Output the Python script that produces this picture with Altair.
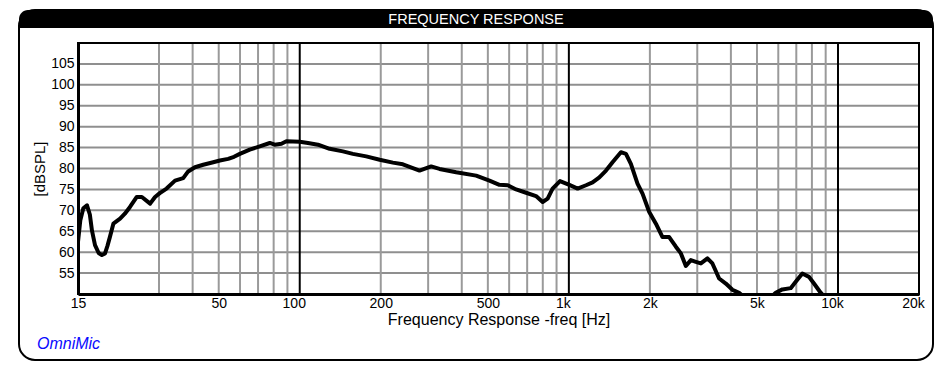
import altair as alt
import pandas as pd

# ---- data ----
freq_hz = [15.0, 15.3, 15.7, 16.2, 16.6, 16.9, 17.35, 17.9, 18.4, 18.9, 19.3, 19.7,
           20.3, 21.5, 22.4, 23.4, 24.8, 25.9, 27.8, 29.0, 30.2, 32.0, 34.4, 36.9,
           38.5, 40.8, 43.8, 47.7, 50.5, 54.2, 57.0, 59.9, 65.2, 71.0, 77.4, 80.7,
           85.5, 89.2, 100, 107.3, 116.9, 129.2, 144.7, 157.6, 176.7, 198.1, 221.9,
           241.7, 278.7, 307.9, 330.6, 381.3, 452.4, 506.9, 552.1, 592.7, 636.7,
           693.4, 755.2, 799, 834, 870, 927, 1004, 1078, 1158, 1225, 1298, 1374,
           1453, 1561, 1630, 1700, 1799, 1878, 1989, 2106, 2228, 2359, 2498, 2608,
           2721, 2840, 2964, 3094, 3273, 3415, 3617, 3830, 4053, 4291, 4600, 5000,
           5500, 5870, 6213, 6673, 6965, 7370, 7803, 8144, 8623, 9500, 11000, 14000,
           20000]
spl_db = [62.5, 67.6, 70.5, 71.2, 69.0, 65.2, 61.7, 59.8, 59.3, 59.7, 61.5, 63.6,
          66.8, 68.0, 69.2, 70.8, 73.2, 73.2, 71.6, 73.2, 74.1, 75.2, 77.1, 77.7,
          79.3, 80.3, 80.9, 81.5, 81.9, 82.3, 82.8, 83.5, 84.5, 85.3, 86.1, 85.7,
          85.9, 86.5, 86.4, 86.1, 85.7, 84.7, 84.1, 83.5, 82.9, 82.1, 81.4,
          81.0, 79.5, 80.5, 79.9, 79.1, 78.3, 77.1, 76.1, 76.0, 75.0,
          74.2, 73.4, 72.0, 72.8, 75.2, 77.0, 76.1, 75.2, 76.0, 76.7, 77.9, 79.5,
          81.5, 83.9, 83.5, 81.1, 76.4, 74.0, 69.6, 66.8, 63.6, 63.6, 61.3, 59.7,
          56.7, 58.1, 57.7, 57.3, 58.5, 57.3, 53.7, 52.5, 51.0, 50.3, 48.5, 47.5,
          48.5, 50.3, 51.1, 51.4, 52.9, 54.9, 54.1, 52.5, 50.3, 47.5, 44.0, 40.0,
          36.0]

grid_minor_x = [30, 40, 50, 60, 70, 80, 90, 200, 300, 400, 500, 600, 700, 800, 900,
                2000, 3000, 4000, 5000, 6000, 7000, 8000, 9000]
grid_decade_x = [100, 1000, 10000]
grid_y = [55, 60, 65, 70, 75, 80, 85, 90, 95, 100, 105]
x_tick_values = [15, 50, 100, 200, 500, 1000, 2000, 5000, 10000, 20000]
y_tick_values = [55, 60, 65, 70, 75, 80, 85, 90, 95, 100, 105]

chart_title = "FREQUENCY RESPONSE"
x_title = "Frequency Response -freq [Hz]"
y_title = "[dBSPL]"
brand = "OmniMic"

# ---- frames ----
curve = pd.DataFrame({"freq": freq_hz, "db": spl_db})
vminor = pd.DataFrame({"freq": grid_minor_x})
vmajor = pd.DataFrame({"freq": grid_decade_x})
hgrid = pd.DataFrame({"db": grid_y})
one = pd.DataFrame({"k": [0]})

W, H = 841, 251
FONT = "Liberation Sans"

x_axis = alt.Axis(
    values=x_tick_values,
    labelExpr="datum.value >= 1000 ? (datum.value / 1000) + 'k' : '' + datum.value",
    grid=False, ticks=False, domainColor="black", domainWidth=3,
    labelFont=FONT, labelFontSize=14, labelColor="black", labelPadding=2,
    labelFlush=False, labelOverlap=False,
    labelOffset={"condition": {"test": "indexof([100, 1000, 10000, 20000], datum.value) >= 0", "value": -6}, "value": 0},
    title=x_title, titleFont=FONT, titleFontSize=16, titleFontWeight="normal",
    titleColor="black", titleY=30, titleBaseline="alphabetic", zindex=2,
)
y_axis = alt.Axis(
    values=y_tick_values, grid=False, ticks=False, domainColor="black", domainWidth=3,
    labelFont=FONT, labelFontSize=14, labelColor="black", labelPadding=4,
    title=y_title, titleFont=FONT, titleFontSize=15, titleFontWeight="normal",
    titleColor="black", titleX=-39, titleY=125.5, titleAngle=-90,
    titleAlign="center", titleBaseline="middle", zindex=2,
)
x_enc = alt.X("freq:Q", scale=alt.Scale(type="log", domain=[15, 20000], nice=False), axis=x_axis)
y_enc = alt.Y("db:Q", scale=alt.Scale(domain=[50, 110], nice=False, zero=False), axis=y_axis)

frame = alt.Chart(one).mark_rect(
    fill="white", fillOpacity=0, stroke="black", strokeWidth=2, cornerRadius=16
).encode(x=alt.value(-59), x2=alt.value(855), y=alt.value(-33), y2=alt.value(317))

title_bar = alt.Chart(one).mark_rect(
    fill="black", cornerRadiusTopLeft=16, cornerRadiusTopRight=16
).encode(x=alt.value(-59), x2=alt.value(855), y=alt.value(-33), y2=alt.value(-15))

title_text = alt.Chart(one).mark_text(
    text=chart_title, color="white", font=FONT, fontSize=14.5, align="center", baseline="middle"
).encode(x=alt.value(398), y=alt.value(-23.5))

brand_text = alt.Chart(one).mark_text(
    text=brand, color="#0a0aff", font=FONT, fontSize=16, fontStyle="italic",
    align="left", baseline="alphabetic"
).encode(x=alt.value(-41), y=alt.value(306))

h_rules = alt.Chart(hgrid).mark_rule(color="#8f8f8f", strokeWidth=2).encode(y=y_enc)
v_minor = alt.Chart(vminor).mark_rule(color="#9a9a9a", strokeWidth=2).encode(x=x_enc)
v_major = alt.Chart(vmajor).mark_rule(color="black", strokeWidth=2).encode(x=x_enc)

# plot-area border (top/right thin, drawn over grid)
border = alt.Chart(one).mark_rect(
    fill="white", fillOpacity=0, stroke="black", strokeWidth=2
).encode(x=alt.value(0), x2=alt.value(W), y=alt.value(0), y2=alt.value(H))

line = alt.Chart(curve).mark_line(
    color="black", strokeWidth=4, strokeJoin="round", strokeCap="round", clip=True
).encode(x=x_enc, y=y_enc)

chart = alt.layer(
    frame, title_bar, title_text, brand_text, h_rules, v_minor, v_major, border, line
).properties(
    width=W, height=H,
    autosize=alt.AutoSizeParams(type="none"),
    padding={"left": 70, "top": 35, "right": 21, "bottom": 69},
    background="white",
).configure_view(stroke="black", strokeWidth=2)

chart.save("out.html", embed_options={"renderer": "svg", "actions": False})
